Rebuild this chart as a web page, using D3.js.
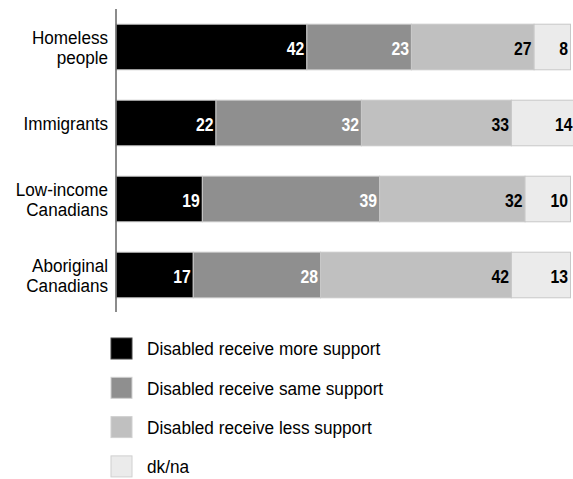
<!DOCTYPE html>
<html>
<head>
<meta charset="utf-8">
<script src="https://cdn.jsdelivr.net/npm/d3@7"></script>
<style>
  html, body { margin: 0; padding: 0; background: #fff; }
  svg { display: block; }
  text { font-family: "Liberation Sans", Arial, sans-serif; }
</style>
</head>
<body>
<svg id="chart" width="573" height="479"></svg>
<script>
// Groups compared against people with disabilities
const categories = [["Homeless", "people"], ["Immigrants"], ["Low-income", "Canadians"], ["Aboriginal", "Canadians"]];
const categoryKeys = ["Homeless people", "Immigrants", "Low-income Canadians", "Aboriginal Canadians"];

// Share of responses (%) per answer
const seriesNames = ["Disabled receive more support", "Disabled receive same support", "Disabled receive less support", "dk/na"];
const moreSupport = [42, 22, 19, 17];
const sameSupport = [23, 32, 39, 28];
const lessSupport = [27, 33, 32, 42];
const dkna = [8, 14, 10, 13];

const seriesValues = [moreSupport, sameSupport, lessSupport, dkna];
const fills = ["#000000", "#8f8f8f", "#c0c0c0", "#ebebeb"];
const labelColors = ["#ffffff", "#ffffff", "#000000", "#000000"];

const svg = d3.select("#chart");

const x = d3.scaleLinear().domain([0, 100]).range([116, 570.5]);
const y = d3.scaleBand().domain(categoryKeys).range([9, 313]).paddingInner(0.4).paddingOuter(0.2);

// Narrow text: draw at (px, py) with horizontal squeeze
function narrowText(parent, px, py, sx) {
  return parent.append("g")
    .attr("transform", `translate(${px},${py}) scale(${sx},1)`)
    .append("text");
}

// Stack segments per category
const rows = categoryKeys.map((k, i) => {
  let acc = 0;
  return seriesValues.map((vals, s) => {
    const d = { key: k, s, x0: acc, x1: acc + vals[i], v: vals[i] };
    acc += vals[i];
    return d;
  });
});

const g = svg.append("g");
rows.forEach(segs => {
  const row = g.append("g");
  row.selectAll("rect").data(segs).join("rect")
    .attr("x", d => x(d.x0))
    .attr("y", d => y(d.key))
    .attr("width", d => x(d.x1) - x(d.x0))
    .attr("height", y.bandwidth())
    .attr("fill", d => fills[d.s])
    .attr("stroke", "#c8c8c8")
    .attr("stroke-width", 1);
  segs.forEach(d => {
    narrowText(row, x(d.x1) - 2.5, y(d.key) + y.bandwidth() / 2 + 1.5, 0.83)
      .attr("dy", "0.35em")
      .attr("text-anchor", "end")
      .attr("font-size", 19)
      .attr("font-weight", "bold")
      .attr("fill", labelColors[d.s])
      .text(d.v);
  });
});

// Vertical category axis line
svg.append("line")
  .attr("x1", 116).attr("x2", 116)
  .attr("y1", 9).attr("y2", 312)
  .attr("stroke", "#666").attr("stroke-width", 1.5);

// Category labels
categoryKeys.forEach((k, i) => {
  const lines = categories[i];
  const cy = y(k) + y.bandwidth() / 2;
  const lh = 20;
  const t = narrowText(svg, 108, cy, 0.9)
    .attr("text-anchor", "end")
    .attr("font-size", 19)
    .attr("fill", "#000");
  lines.forEach((ln, j) => {
    t.append("tspan")
      .attr("x", 0)
      .attr("y", (j - (lines.length - 1) / 2) * lh)
      .attr("dy", "0.35em")
      .text(ln);
  });
});

// Legend
const legend = svg.append("g");
seriesNames.forEach((name, i) => {
  const ly = 338 + i * 39.3;
  legend.append("rect")
    .attr("x", 111).attr("y", ly)
    .attr("width", 21).attr("height", 21)
    .attr("fill", fills[i])
    .attr("stroke", i === 0 ? "#444" : "#d0d0d0")
    .attr("stroke-width", 1);
  narrowText(legend, 147, ly + 11, 0.93)
    .attr("dy", "0.35em")
    .attr("font-size", 18.5)
    .attr("fill", "#000")
    .text(name);
});
</script>
</body>
</html>
